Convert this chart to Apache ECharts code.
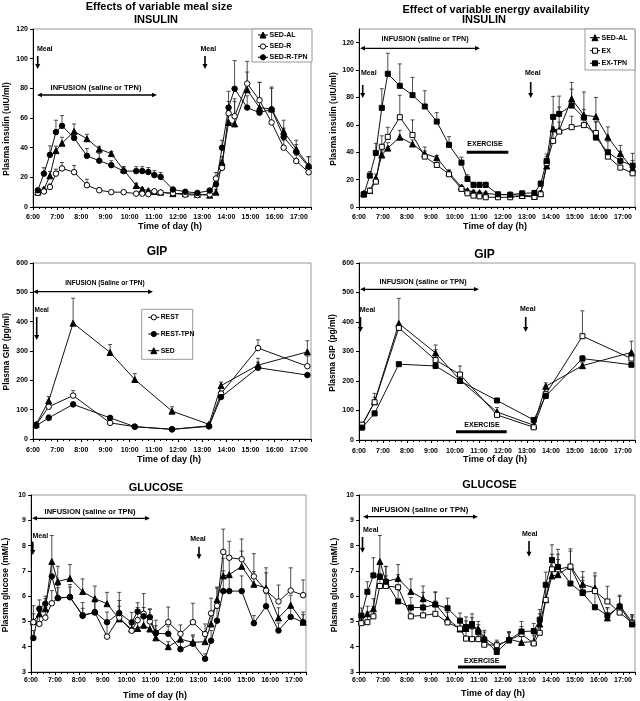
<!DOCTYPE html>
<html><head><meta charset="utf-8">
<script src="https://cdn.jsdelivr.net/npm/echarts@6.0.0/dist/echarts.min.js"></script>
<style>html,body{margin:0;padding:0;background:#fff}#c{width:640px;height:701px}</style>
</head><body><div id="c"></div><script>
// ---------- DATA ----------
const TIME_LABELS = ['6:00','7:00','8:00','9:00','10:00','11:00','12:00','13:00','14:00','15:00','16:00','17:00'];

// sampling times (decimal hours)
const T_INS = [6.2,6.45,6.7,6.95,7.2,7.7,8.23,8.74,9.24,9.75,10.27,10.52,10.77,11.02,11.28,11.79,12.3,12.8,13.31,13.57,13.82,14.09,14.34,14.86,15.37,15.87,16.37,16.89,17.4];
const T_GIP = [6.13,6.65,7.66,9.19,10.21,11.75,13.28,13.78,15.31,17.35];
const T_GLU = [6.1,6.35,6.6,6.87,7.12,7.63,8.16,8.67,9.18,9.69,10.21,10.46,10.71,10.97,11.22,11.74,12.25,12.77,13.28,13.53,13.78,14.04,14.29,14.81,15.32,15.83,16.35,16.86,17.38];

// INSULIN (uIU/ml)
const INS_SED_AL = [10,12,21,38,43,51,46,39,36,25,14.5,12,11,10.5,10,9,9,8.5,8,10,30,57,56,79,67,66,51,39,28];
const INS_SED_R  = [9.5,10.5,13.5,22.5,26,23.5,14.7,11.3,10,10,9,9,8.7,10.6,9.8,9.3,8.3,8,8.5,19.2,26.4,63.2,61.2,83.2,72,57,40,31,23.4];
const INS_SED_R_TPN = [11.3,22.5,35.2,50.5,54.7,46.6,34.5,31.2,28.2,24.2,24.2,24.2,23.6,21.5,20.3,11.8,10.3,9.5,11.1,15.3,40,67,79.7,67,63.6,65.9,47.2,37.1,27.3];
const INS_EX     = [9,11.9,18.5,44,51.2,65.6,52.6,36.8,30.7,23.9,13.2,10,8.3,7.8,7.1,7.1,7.1,8,7.3,9.3,32,48.3,55.1,58.3,59.8,54,36.8,28.8,24.6];
const INS_EX_TPN = [9.3,22.9,39.5,72.4,97.3,88.5,81.7,73.4,62.4,45.4,32.4,20.5,16.1,16.1,16.1,9.3,9,10,10.3,17,33.7,65.8,68,74.1,65.3,50.7,40,33.7,30.2];
const ERR_INS_SED_AL = [1,1,3,3,4,5,3,2,1.5,2,1.5,1,1,1,1,1,1,1,1,2,4,8,17,12,17,14,7.5,6,6];
const ERR_INS_SED_R  = [1,1,2,3,4,4.5,4,1.5,1,1,1,1,1,1,1,1,1,1,1,4,5,8,10,15,12,10,5,4,3];
const ERR_INS_SED_R_TPN = [1,4,6,8,7,4,5,5,3,3,3,3,3,3,3,1,1,1,1,3,5,11,19,8,8,15,6,5,6.6];
const ERR_INS_EX     = [1,1.5,3,8,7,16,11,7,4,3,2,1,1,1,1,1,1,1,1,2,5,10,7,8,7,8,4,4,4];
const ERR_INS_EX_TPN = [1,3,7,14,15,16,13,11.5,6.5,6,4,3,2,2,2,1,1,1,1,2,5,15,13,12,6,12,8,7,9];

// GIP (pg/ml)
const GIP_SED      = [50,130,395,295,203,95,50,182,252,297];
const GIP_REST     = [48,110,148,55,42,33,45,155,310,248];
const GIP_REST_TPN = [45,72,118,72,42,33,43,143,243,218];
const GIP_EX       = [52,128,380,271,222,85,43,155,352,276];
const GIP_EX_TPN   = [42,90,257,251,200,134,68,149,276,255];
const ERR_GIP_SED      = [5,15,85,27,20,15,5,12,10,38];
const ERR_GIP_REST     = [3,10,17,5,3,3,3,8,28,35];
const ERR_GIP_REST_TPN = [3,10,8,8,3,3,3,8,32,5];
const ERR_GIP_EX       = [5,30,10,35,29,12,3,20,86,15];
const ERR_GIP_EX_TPN   = [3,8,5,5,5,5,5,8,10,5];

// GLUCOSE (mM/L)
const GLU_SED_AL = [5.0,5.3,5.5,7.37,6.58,6.7,6.18,5.9,5.7,5.1,4.7,4.72,4.85,4.7,4.35,4.0,4.3,4.17,4.2,4.9,5.86,6.8,6.85,7.18,6.47,6.32,5.14,5.64,4.97];
const GLU_SED_R  = [4.97,4.9,5.15,5.72,5.93,5.96,5.25,5.35,4.4,5.15,4.63,5.05,5.3,5.0,4.55,4.97,4.51,4.97,4.5,5.32,5.62,7.75,7.52,7.46,6.78,6.22,5.79,6.22,6.04];
const GLU_SED_R_TPN = [4.34,5.5,5.7,6.78,5.92,5.96,5.22,5.37,4.97,5.33,4.96,5.39,5.2,5.17,4.53,4.51,3.9,4.12,3.52,4.24,5.03,6.2,6.2,6.2,4.93,5.6,4.64,5.18,4.97];
const GLU_EX     = [4.93,4.97,5.2,6.4,6.4,6.35,5.2,5.24,5.3,4.96,4.72,4.32,4.3,4.3,4.08,4.06,4.25,4.5,4.13,4.55,5.85,7.06,7.06,7.17,6.15,6.2,5.79,5.35,4.95];
const GLU_EX_TPN = [5.23,6.17,6.82,6.76,6.57,5.79,5.55,5.55,5.67,5.52,5.03,4.78,4.9,4.57,4.28,3.79,4.26,4.6,4.62,5.07,6.45,7.43,7.15,6.5,6.12,5.56,5.24,5.59,4.88];
const ERR_GLU_SED_AL = [0.3,0.3,0.4,1.03,0.6,0.55,0.5,0.5,0.45,0.5,0.35,0.3,0.3,0.3,0.3,0.2,0.3,0.3,0.3,0.4,0.5,0.7,0.6,0.6,0.5,0.6,0.4,0.4,0.3];
const ERR_GLU_SED_R  = [0.65,0.5,0.4,0.5,0.4,0.4,0.5,0.5,0.5,1.0,0.4,0.5,0.8,0.5,0.5,0.6,0.35,0.75,0.4,0.6,0.7,0.9,0.65,0.8,0.9,0.9,0.65,0.9,0.6];
const ERR_GLU_SED_R_TPN = [0.3,0.35,0.3,0.5,0.5,0.5,0.3,0.4,0.4,0.5,0.4,0.35,0.35,0.3,0.3,0.3,0.3,0.3,0.2,0.4,0.5,0.8,0.6,0.6,0.3,0.5,0.3,0.4,0.4];
const ERR_GLU_EX     = [0.3,0.4,0.4,0.5,0.4,0.5,0.4,0.4,0.5,0.4,0.3,0.4,0.4,0.3,0.3,0.2,0.3,0.3,0.3,0.4,0.5,0.6,0.6,0.7,0.6,0.6,0.6,0.3,0.3];
const ERR_GLU_EX_TPN = [0.3,0.4,0.7,0.6,0.6,0.5,0.4,0.6,0.5,0.4,0.3,0.4,0.4,0.3,0.3,0.2,0.3,0.4,0.3,0.4,0.5,0.6,0.7,0.7,0.5,0.6,0.3,0.4,0.3];

// ---------- LAYOUT ----------
const FONT = '"Liberation Sans", Arial, sans-serif';
const grids = [
  {left:33, top:29, width:278, height:178},
  {left:359, top:29, width:276, height:178},
  {left:33, top:263, width:278, height:176},
  {left:359, top:263, width:276, height:177},
  {left:31, top:495, width:275, height:177},
  {left:359, top:495, width:276, height:177}
];
const yCfg = [
  {min:0,max:120,interval:20},{min:0,max:130,interval:20},
  {min:0,max:600,interval:100},{min:0,max:600,interval:100},
  {min:3,max:10,interval:1},{min:3,max:10,interval:1}
];
const xLabelMargin = [7,7,8,8,5,5];

const panels = [
  [ {name:'SED-AL', t:T_INS, v:INS_SED_AL, e:ERR_INS_SED_AL, sym:'triangle', fill:true},
    {name:'SED-R', t:T_INS, v:INS_SED_R, e:ERR_INS_SED_R, sym:'circle', fill:false},
    {name:'SED-R-TPN', t:T_INS, v:INS_SED_R_TPN, e:ERR_INS_SED_R_TPN, sym:'circle', fill:true} ],
  [ {name:'SED-AL', t:T_INS, v:INS_SED_AL, e:ERR_INS_SED_AL, sym:'triangle', fill:true},
    {name:'EX', t:T_INS, v:INS_EX, e:ERR_INS_EX, sym:'rect', fill:false},
    {name:'EX-TPN', t:T_INS, v:INS_EX_TPN, e:ERR_INS_EX_TPN, sym:'rect', fill:true} ],
  [ {name:'REST', t:T_GIP, v:GIP_REST, e:ERR_GIP_REST, sym:'circle', fill:false},
    {name:'REST-TPN', t:T_GIP, v:GIP_REST_TPN, e:ERR_GIP_REST_TPN, sym:'circle', fill:true},
    {name:'SED', t:T_GIP, v:GIP_SED, e:ERR_GIP_SED, sym:'triangle', fill:true} ],
  [ {name:'SED-AL', t:T_GIP, v:GIP_SED, e:ERR_GIP_SED, sym:'triangle', fill:true},
    {name:'EX', t:T_GIP, v:GIP_EX, e:ERR_GIP_EX, sym:'rect', fill:false},
    {name:'EX-TPN', t:T_GIP, v:GIP_EX_TPN, e:ERR_GIP_EX_TPN, sym:'rect', fill:true} ],
  [ {name:'SED-AL', t:T_GLU, v:GLU_SED_AL, e:ERR_GLU_SED_AL, sym:'triangle', fill:true},
    {name:'SED-R', t:T_GLU, v:GLU_SED_R, e:ERR_GLU_SED_R, sym:'circle', fill:false},
    {name:'SED-R-TPN', t:T_GLU, v:GLU_SED_R_TPN, e:ERR_GLU_SED_R_TPN, sym:'circle', fill:true} ],
  [ {name:'SED-AL', t:T_GLU, v:GLU_SED_AL, e:ERR_GLU_SED_AL, sym:'triangle', fill:true},
    {name:'EX', t:T_GLU, v:GLU_EX, e:ERR_GLU_EX, sym:'rect', fill:false},
    {name:'EX-TPN', t:T_GLU, v:GLU_EX_TPN, e:ERR_GLU_EX_TPN, sym:'rect', fill:true} ]
];

const symSize = {circle:5.5, triangle:6, rect:5};

const xAxes = grids.map((g,i)=>({
  gridIndex:i, type:'value', min:6, max:17.5, interval:1,
  axisLine:{show:true, onZero:false, lineStyle:{color:'#000', width:1}},
  axisTick:{show:true, length:3, lineStyle:{color:'#000'}},
  minorTick:{show:true, splitNumber:4, length:2, lineStyle:{color:'#000'}},
  splitLine:{show:false}, minorSplitLine:{show:false},
  axisLabel:{fontSize:7, fontWeight:'bold', color:'#000', fontFamily:FONT, margin:xLabelMargin[i],
    formatter:v=> Number.isInteger(v) ? (TIME_LABELS[v-6]||'') : ''}
}));
const yAxes = grids.map((g,i)=>({
  gridIndex:i, type:'value', min:yCfg[i].min, max:yCfg[i].max, interval:yCfg[i].interval,
  axisLine:{show:true, onZero:false, lineStyle:{color:'#000', width:1}},
  axisTick:{show:true, length:3, lineStyle:{color:'#000'}},
  splitLine:{show:false},
  axisLabel:{fontSize:7, fontWeight:'bold', color:'#000', fontFamily:FONT, margin:5,
    showMaxLabel: i!==1}
}));

const series = [];
panels.forEach((list, gi)=>{
  list.forEach(s=>{
    series.push({
      type:'custom', xAxisIndex:gi, yAxisIndex:gi, z:1, silent:true, animation:false,
      data: s.t.map((t,k)=>[t, s.v[k], s.v[k]+s.e[k]]),
      encode:{x:0, y:[1,2]},
      renderItem:(p, api)=>{
        const a = api.coord([api.value(0), api.value(1)]);
        const b = api.coord([api.value(0), api.value(2)]);
        return {type:'group', children:[
          {type:'line', shape:{x1:a[0],y1:a[1],x2:a[0],y2:b[1]}, style:{stroke:'#222', lineWidth:0.8}},
          {type:'line', shape:{x1:a[0]-2,y1:b[1],x2:a[0]+2,y2:b[1]}, style:{stroke:'#222', lineWidth:0.8}}
        ]};
      }
    });
    series.push({
      type:'line', name:s.name, xAxisIndex:gi, yAxisIndex:gi, z:3, animation:false,
      data: s.t.map((t,k)=>[t, s.v[k]]),
      symbol:s.sym, symbolSize:symSize[s.sym], showAllSymbol:true,
      lineStyle:{color:'#111', width:1},
      itemStyle:{color: s.fill ? '#000' : '#fff', borderColor:'#000', borderWidth:1}
    });
  });
});

// ---------- ANNOTATIONS ----------
const G = [];
function txt(x, y, s, size, align){
  G.push({type:'text', x:x, y:y, z:50, style:{text:s, font:'bold '+size+'px '+FONT, fill:'#000',
    align:align||'center', verticalAlign:'middle', textAlign:align||'center', textVerticalAlign:'middle'}});
}
function vtxt(x, y, s, size){
  G.push({type:'text', x:x, y:y, rotation:Math.PI/2, z:50, style:{text:s, font:'bold '+size+'px '+FONT, fill:'#000',
    align:'center', verticalAlign:'middle', textAlign:'center', textVerticalAlign:'middle'}});
}
function meal(tx, ty, ax, y1, y2, size){
  txt(tx, ty, 'Meal', size||7);
  G.push({type:'line', z:50, shape:{x1:ax, y1:y1, x2:ax, y2:y2-4}, style:{stroke:'#000', lineWidth:1.6}});
  G.push({type:'polygon', z:50, shape:{points:[[ax-2.5,y2-5],[ax+2.5,y2-5],[ax,y2]]}, style:{fill:'#000'}});
}
function infusion(x1, x2, y, tx, ty, size, label){
  G.push({type:'line', z:50, shape:{x1:x1+3, y1:y, x2:x2-3, y2:y}, style:{stroke:'#000', lineWidth:1.3}});
  G.push({type:'polygon', z:50, shape:{points:[[x1,y],[x1+5,y-2.3],[x1+5,y+2.3]]}, style:{fill:'#000'}});
  G.push({type:'polygon', z:50, shape:{points:[[x2,y],[x2-5,y-2.3],[x2-5,y+2.3]]}, style:{fill:'#000'}});
  txt(tx, ty, label||'INFUSION (saline or TPN)', size);
}
function exercise(tx, ty, x1, x2, y){
  txt(tx, ty, 'EXERCISE', 7);
  G.push({type:'rect', z:50, shape:{x:x1, y:y-1.5, width:x2-x1, height:3}, style:{fill:'#000'}});
}
function marker(sym, fill, cx, cy){
  const st = {fill: fill?'#000':'#fff', stroke:'#000', lineWidth:1};
  if(sym==='circle') G.push({type:'circle', z:52, shape:{cx:cx, cy:cy, r:2.6}, style:st});
  else if(sym==='triangle') G.push({type:'polygon', z:52, shape:{points:[[cx,cy-3],[cx+3,cy+3],[cx-3,cy+3]]}, style:st});
  else G.push({type:'rect', z:52, shape:{x:cx-2.5, y:cy-2.5, width:5, height:5}, style:st});
}
function legend(box, items, lx1, lx2, tx, size){
  G.push({type:'rect', z:49, shape:box, style:{fill:'#fff', stroke:'#999', lineWidth:1}});
  items.forEach(it=>{
    G.push({type:'line', z:51, shape:{x1:lx1, y1:it.y, x2:lx2, y2:it.y}, style:{stroke:'#000', lineWidth:1}});
    marker(it.sym, it.fill, (lx1+lx2)/2, it.y);
    txt(tx, it.y, it.name, size, 'left');
  });
}

// titles
txt(159, 7, 'Effects of variable meal size', 11);
txt(156, 19.5, 'INSULIN', 11);
txt(496, 10, 'Effect of variable energy availability', 11);
txt(484, 19.5, 'INSULIN', 11);
txt(157, 252, 'GIP', 12);
txt(484.5, 254.5, 'GIP', 12);
txt(156, 487.5, 'GLUCOSE', 11);
txt(489.5, 484.5, 'GLUCOSE', 11);

// axis names
vtxt(6.7, 129, 'Plasma insulin (uIU/ml)', 8.5);
vtxt(333.3, 119, 'Plasma insulin (uIU/ml)', 8.5);
vtxt(6.7, 351.7, 'Plasma GIP (pg/ml)', 8.5);
vtxt(332.7, 353, 'Plasma GIP (pg/ml)', 8.5);
vtxt(6, 585, 'Plasma glucose (mM/L)', 8.5);
vtxt(335, 585, 'Plasma glucose (mM/L)', 8.5);
txt(170, 227, 'Time of day (h)', 9);
txt(495, 227, 'Time of day (h)', 9);
txt(169, 459.5, 'Time of day (h)', 9);
txt(495, 459.5, 'Time of day (h)', 9);
txt(155, 696, 'Time of day (h)', 9);
txt(493, 693.5, 'Time of day (h)', 9);

// panel 1
meal(44.7, 49.3, 37.7, 56, 69);
meal(208.3, 49.3, 205, 56, 69);
infusion(37, 157, 95, 96, 88, 7.5);
legend({x:252, y:29, width:60, height:33},
  [{y:35, sym:'triangle', fill:true, name:'SED-AL'},
   {y:46.5, sym:'circle', fill:false, name:'SED-R'},
   {y:57.3, sym:'circle', fill:true, name:'SED-R-TPN'}], 258, 268, 269.5, 7);
// panel 2
infusion(360, 480, 48.3, 425, 39, 7.2);
meal(368.8, 73.3, 362.7, 85, 98);
meal(532.8, 73.3, 530.7, 82, 98);
exercise(485, 144, 466.7, 508.3, 152.3);
legend({x:585, y:29, width:50, height:41},
  [{y:37.7, sym:'triangle', fill:true, name:'SED-AL'},
   {y:50.7, sym:'rect', fill:false, name:'EX'},
   {y:63.3, sym:'rect', fill:true, name:'EX-TPN'}], 590, 600, 601.5, 7);
// panel 3
infusion(33, 153, 291.7, 105, 283, 6.5, 'INFUSION (Saline or TPN)');
meal(41.7, 310, 36.7, 317, 340, 6.5);
legend({x:141.7, y:309.3, width:51, height:50},
  [{y:317.3, sym:'circle', fill:false, name:'REST'},
   {y:334, sym:'circle', fill:true, name:'REST-TPN'},
   {y:350.7, sym:'triangle', fill:true, name:'SED'}], 148.3, 159.3, 160.7, 6.8);
// panel 4
infusion(360, 479, 289.3, 423, 281.7, 7.2);
meal(367.5, 310, 360.5, 317, 332);
meal(527.8, 309, 525.7, 317, 332);
exercise(482, 425, 456, 506.7, 431.7);
// panel 5
infusion(32, 150, 518.3, 90, 511.7, 7.5);
meal(40.3, 536, 32.8, 541.7, 555);
meal(198, 539, 199, 546.7, 559.3);
// panel 6
infusion(363, 478, 516.7, 420, 510, 8);
meal(370.7, 530, 362.5, 537, 552.7);
meal(529.7, 534, 529, 541, 556.7);
exercise(481.7, 661, 458, 506, 667);

const chart = echarts.init(document.getElementById('c'), null, {renderer:'canvas'});
chart.setOption({
  animation:false,
  backgroundColor:'#fff',
  textStyle:{fontFamily:FONT},
  grid: grids.map(g=>Object.assign({show:true, borderColor:'#999', borderWidth:1, backgroundColor:'transparent', containLabel:false}, g)),
  xAxis: xAxes,
  yAxis: yAxes,
  series: series,
  graphic: G
});
</script></body></html>
